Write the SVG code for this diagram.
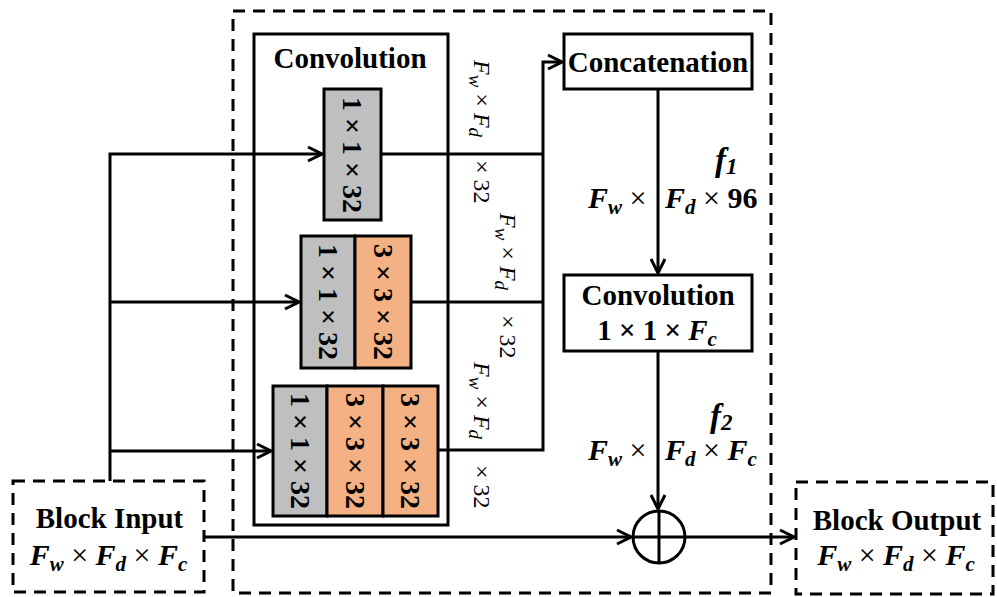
<svg xmlns="http://www.w3.org/2000/svg" width="997" height="597" viewBox="0 0 997 597">
<style>
.ln{stroke:#000;stroke-width:3;fill:none}
.box{fill:#fff;stroke:#000;stroke-width:3}
.dash{fill:none;stroke:#000;stroke-width:3;stroke-dasharray:12 8}
.gray{fill:#bfbfbf;stroke:#000;stroke-width:3}
.org{fill:#f4b183;stroke:#000;stroke-width:3}
.t{font-family:"Liberation Serif","Times New Roman",serif;font-weight:bold;font-size:29px;fill:#000}
.bt{font-family:"Liberation Serif","Times New Roman",serif;font-weight:bold;font-size:28px;fill:#000}
.m{font-family:"Liberation Serif","Times New Roman",serif;font-size:30px;fill:#000}
.r{font-family:"Liberation Serif","Times New Roman",serif;font-size:24px;fill:#000}
.i{font-style:italic;font-weight:bold}
.ri{font-style:italic}
.s{font-size:21px}
.rs{font-size:19px}
</style>
<defs>
<marker id="arr" viewBox="-16 -9 18 18" refX="0" refY="0" markerWidth="18" markerHeight="18" markerUnits="userSpaceOnUse" orient="auto">
<path d="M-14,-7 L0,0 L-14,7" fill="none" stroke="#000" stroke-width="3"/>
</marker>
</defs>
<rect width="997" height="597" fill="#fff"/>

<g id="block-main">
<rect class="dash" x="233" y="11" width="538" height="582"/>
</g>

<g id="conv-group">
<rect class="box" x="254" y="34" width="194" height="491"/>
<text class="t" x="350" y="68" text-anchor="middle">Convolution</text>
</g>

<g id="branch1">
<rect class="gray" x="324" y="89" width="57" height="131"/>
<text class="bt" transform="translate(352.5,155) rotate(90)" text-anchor="middle" dominant-baseline="central">1 × 1 × 32</text>
</g>

<g id="branch2">
<rect class="gray" x="301" y="236" width="54" height="132"/>
<rect class="org" x="355" y="236" width="56" height="132"/>
<text class="bt" transform="translate(328,302) rotate(90)" text-anchor="middle" dominant-baseline="central">1 × 1 × 32</text>
<text class="bt" transform="translate(383,302) rotate(90)" text-anchor="middle" dominant-baseline="central">3 × 3 × 32</text>
</g>

<g id="branch3">
<rect class="gray" x="273" y="386" width="54" height="130"/>
<rect class="org" x="327" y="386" width="56" height="130"/>
<rect class="org" x="383" y="386" width="55" height="130"/>
<text class="bt" transform="translate(300,451) rotate(90)" text-anchor="middle" dominant-baseline="central">1 × 1 × 32</text>
<text class="bt" transform="translate(355,451) rotate(90)" text-anchor="middle" dominant-baseline="central">3 × 3 × 32</text>
<text class="bt" transform="translate(410.5,451) rotate(90)" text-anchor="middle" dominant-baseline="central">3 × 3 × 32</text>
</g>

<g id="concat">
<rect class="box" x="564" y="34" width="188" height="55"/>
<text class="t" x="658" y="72" text-anchor="middle">Concatenation</text>
</g>

<g id="conv2">
<rect class="box" x="564" y="275" width="188" height="76"/>
<text class="t" x="658" y="305" text-anchor="middle">Convolution</text>
<text class="t" x="657" y="340" text-anchor="middle">1 × 1 × <tspan class="i">F</tspan><tspan class="i s" dy="6">c</tspan></text>
</g>

<g id="add">
<circle cx="659" cy="537" r="26" class="ln"/>
<line class="ln" x1="633" y1="537" x2="685" y2="537"/>
<line class="ln" x1="659" y1="511" x2="659" y2="563"/>
</g>

<g id="block-input">
<rect class="dash" x="13" y="481" width="191" height="111"/>
<text class="t" x="109.5" y="528" text-anchor="middle">Block Input</text>
<text class="m" x="108.5" y="565" text-anchor="middle"><tspan class="i">F</tspan><tspan class="i s" dy="6">w</tspan><tspan dy="-6"> × </tspan><tspan class="i">F</tspan><tspan class="i s" dy="6">d</tspan><tspan dy="-6"> × </tspan><tspan class="i">F</tspan><tspan class="i s" dy="6">c</tspan></text>
</g>

<g id="block-output">
<rect class="dash" x="796" y="482" width="197" height="112"/>
<text class="t" x="897" y="530" text-anchor="middle">Block Output</text>
<text class="m" x="896" y="565" text-anchor="middle"><tspan class="i">F</tspan><tspan class="i s" dy="6">w</tspan><tspan dy="-6"> × </tspan><tspan class="i">F</tspan><tspan class="i s" dy="6">d</tspan><tspan dy="-6"> × </tspan><tspan class="i">F</tspan><tspan class="i s" dy="6">c</tspan></text>
</g>

<g id="connectors">
<polyline class="ln" points="110,481 110,154 322,154" marker-end="url(#arr)"/>
<line class="ln" x1="110" y1="302" x2="299" y2="302" marker-end="url(#arr)"/>
<line class="ln" x1="110" y1="451" x2="271" y2="451" marker-end="url(#arr)"/>
<line class="ln" x1="381" y1="154" x2="543" y2="154"/>
<line class="ln" x1="411" y1="302" x2="543" y2="302"/>
<polyline class="ln" points="438,450 543,450 543,62 562,62" marker-end="url(#arr)"/>
<line class="ln" x1="658" y1="89" x2="658" y2="273" marker-end="url(#arr)"/>
<line class="ln" x1="658" y1="351" x2="658" y2="509" marker-end="url(#arr)"/>
<line class="ln" x1="204" y1="537" x2="631" y2="537" marker-end="url(#arr)"/>
<line class="ln" x1="685" y1="537" x2="794" y2="537" marker-end="url(#arr)"/>
</g>

<g id="labels">
<text class="r" transform="translate(474,60) rotate(90)"><tspan class="ri">F</tspan><tspan class="ri rs" dy="5">w</tspan><tspan dy="-5"> × </tspan><tspan class="ri">F</tspan><tspan class="ri rs" dy="5">d</tspan></text>
<text class="r" transform="translate(474,160) rotate(90)">× 32</text>
<text class="r" transform="translate(500,213) rotate(90)"><tspan class="ri">F</tspan><tspan class="ri rs" dy="5">w</tspan><tspan dy="-5"> × </tspan><tspan class="ri">F</tspan><tspan class="ri rs" dy="5">d</tspan></text>
<text class="r" transform="translate(500,315) rotate(90)">× 32</text>
<text class="r" transform="translate(474,362) rotate(90)"><tspan class="ri">F</tspan><tspan class="ri rs" dy="5">w</tspan><tspan dy="-5"> × </tspan><tspan class="ri">F</tspan><tspan class="ri rs" dy="5">d</tspan></text>
<text class="r" transform="translate(474,465) rotate(90)">× 32</text>

<text class="m" x="715" y="171"><tspan class="i" font-size="33">f</tspan><tspan class="i" font-size="23" dy="3">1</tspan></text>
<text class="m" x="588" y="208"><tspan class="i">F</tspan><tspan class="i s" dy="6">w</tspan><tspan dy="-6"> ×</tspan></text>
<text class="m" x="665" y="208"><tspan class="i">F</tspan><tspan class="i s" dy="6">d</tspan><tspan dy="-6"> × </tspan><tspan font-weight="bold">96</tspan></text>
<text class="m" x="710" y="427"><tspan class="i" font-size="33">f</tspan><tspan class="i" font-size="23" dy="3">2</tspan></text>
<text class="m" x="588" y="460"><tspan class="i">F</tspan><tspan class="i s" dy="6">w</tspan><tspan dy="-6"> ×</tspan></text>
<text class="m" x="665" y="460"><tspan class="i">F</tspan><tspan class="i s" dy="6">d</tspan><tspan dy="-6"> × </tspan><tspan class="i">F</tspan><tspan class="i s" dy="6">c</tspan></text>
</g>
</svg>
